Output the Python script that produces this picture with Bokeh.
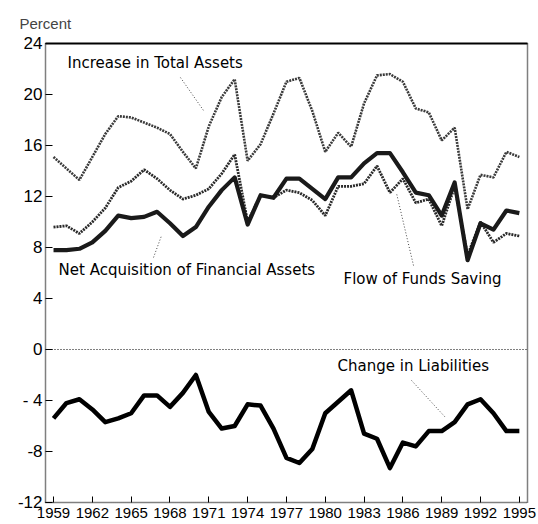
from bokeh.plotting import figure
from bokeh.models import LinearAxis, FixedTicker, Span, Label, Range1d
from bokeh.embed import file_html
from bokeh.resources import INLINE

years = list(range(1959, 1996))

increase_total_assets = [15.1, 14.2, 13.3, 15.1, 16.9, 18.3, 18.2, 17.8, 17.4, 16.9,
                         15.5, 14.2, 17.5, 19.8, 21.2, 14.8, 16.1, 18.5, 21.0, 21.3,
                         18.7, 15.5, 17.0, 15.9, 19.3, 21.5, 21.6, 21.0, 18.9, 18.6,
                         16.4, 17.4, 11.0, 13.7, 13.5, 15.5, 15.1]

flow_of_funds_saving = [9.6, 9.7, 9.1, 10.0, 11.1, 12.7, 13.2, 14.1, 13.4, 12.5,
                        11.8, 12.1, 12.6, 13.8, 15.3, 10.0, 12.1, 11.9, 12.5, 12.3,
                        11.7, 10.5, 12.8, 12.8, 13.0, 14.4, 12.3, 13.4, 11.5, 11.8,
                        9.7, 12.8, 7.4, 10.0, 8.4, 9.1, 8.9]

net_acq_fin_assets = [7.8, 7.8, 7.9, 8.4, 9.3, 10.5, 10.3, 10.4, 10.8, 9.9,
                      8.9, 9.6, 11.2, 12.5, 13.5, 9.8, 12.1, 11.9, 13.4, 13.4,
                      12.6, 11.8, 13.5, 13.5, 14.6, 15.4, 15.4, 13.9, 12.3, 12.1,
                      10.5, 13.1, 7.0, 9.9, 9.4, 10.9, 10.7]

change_in_liabilities = [-5.4, -4.2, -3.9, -4.7, -5.7, -5.4, -5.0, -3.6, -3.6, -4.5,
                         -3.4, -2.0, -4.9, -6.2, -6.0, -4.3, -4.4, -6.2, -8.5, -8.9,
                         -7.8, -5.0, -4.1, -3.2, -6.6, -7.0, -9.3, -7.3, -7.6, -6.4,
                         -6.4, -5.7, -4.3, -3.9, -5.0, -6.4, -6.4]

x_ticks = list(range(1959, 1996, 3))
y_ticks = list(range(-12, 25, 4))

# series labels: text, x, y ; leader lines: x0, y0, x1, y1 (data units)
label_texts = ["Increase in Total Assets", "Net Acquisition of Financial Assets",
               "Flow of Funds Saving", "Change in Liabilities"]
label_x = [1960.08, 1959.39, 1981.41, 1980.95]
label_y = [22.5, 6.2, 5.5, -1.33]
leader_x0 = [1968.81, 1966.73, 1986.82, 1986.67]
leader_y0 = [21.33, 7.22, 6.59, -2.43]
leader_x1 = [1970.59, 1967.35, 1985.51, 1989.29]
leader_y1 = [18.75, 8.94, 12.24, -5.33]

FONT = "Liberation Sans"
LABEL_FONT = "DejaVu Sans"

p = figure(width=538, height=524, output_backend="svg", toolbar_location=None,
           x_range=Range1d(1958.38, 1995.63), y_range=Range1d(-12, 24),
           min_border_left=45, min_border_right=11, min_border_top=43,
           min_border_bottom=22)
p.outline_line_color = None
p.grid.grid_line_color = None
p.background_fill_color = "white"
p.border_fill_color = "white"

p.title.text = "Percent"
p.title.text_font = FONT
p.title.text_font_size = "15px"
p.title.text_font_style = "normal"
p.title.align = "left"
p.title.offset = -26
p.title.standoff = 24

# axes
xa = p.xaxis[0]
xa.ticker = FixedTicker(ticks=x_ticks)
xa.major_tick_in = 6
xa.major_tick_out = 0
xa.minor_tick_line_color = None
xa.axis_line_dash = "1 1"
xa.axis_line_width = 1.5
xa.major_label_text_font = FONT
xa.major_label_text_font_size = "15px"
xa.major_label_standoff = 5
xa.major_label_text_color = "black"

ya = p.yaxis[0]
ya.ticker = FixedTicker(ticks=y_ticks)
ya.major_tick_in = 7
ya.major_tick_out = 0
ya.minor_tick_line_color = None
ya.axis_line_dash = "1 1"
ya.axis_line_width = 1.5
ya.major_label_text_font = FONT
ya.major_label_text_font_size = "17px"
ya.major_label_standoff = 3
ya.major_label_text_color = "black"
ya.major_label_overrides = {-4: "- 4", -8: "-8", -12: "-12"}

right_axis = LinearAxis(ticker=FixedTicker(ticks=[]), axis_line_dash="1 1",
                        axis_line_width=1.5, major_tick_in=0, major_tick_out=0,
                        minor_tick_in=0, minor_tick_out=0, major_label_standoff=0)
p.add_layout(right_axis, "right")
top_axis = LinearAxis(ticker=FixedTicker(ticks=[]), axis_line_width=2,
                      major_tick_in=0, major_tick_out=0,
                      minor_tick_in=0, minor_tick_out=0, major_label_standoff=0)
p.add_layout(top_axis, "above")

p.add_layout(Span(location=0, dimension="width", line_color="black",
                  line_width=1.2, line_dash="1 2"))

# series
p.line(years, increase_total_assets, line_color="#3a3a3a", line_width=2.6,
       line_dash="2 1")
p.line(years, flow_of_funds_saving, line_color="#2a2a2a", line_width=2.8,
       line_dash="2 1")
p.line(years, net_acq_fin_assets, line_color="#1a1a1a", line_width=4.2,
       line_join="round")
p.line(years, change_in_liabilities, line_color="black", line_width=4.5,
       line_join="round")

# leader lines
p.segment(leader_x0, leader_y0, leader_x1, leader_y1, line_color="#444444",
          line_width=1, line_dash="1 2")

for t, lx, ly in zip(label_texts, label_x, label_y):
    p.add_layout(Label(x=lx, y=ly, text=t, text_font=LABEL_FONT,
                       text_font_size="15px", text_baseline="middle",
                       text_align="left", text_color="black"))

open("out.html", "w").write(file_html(p, INLINE))
